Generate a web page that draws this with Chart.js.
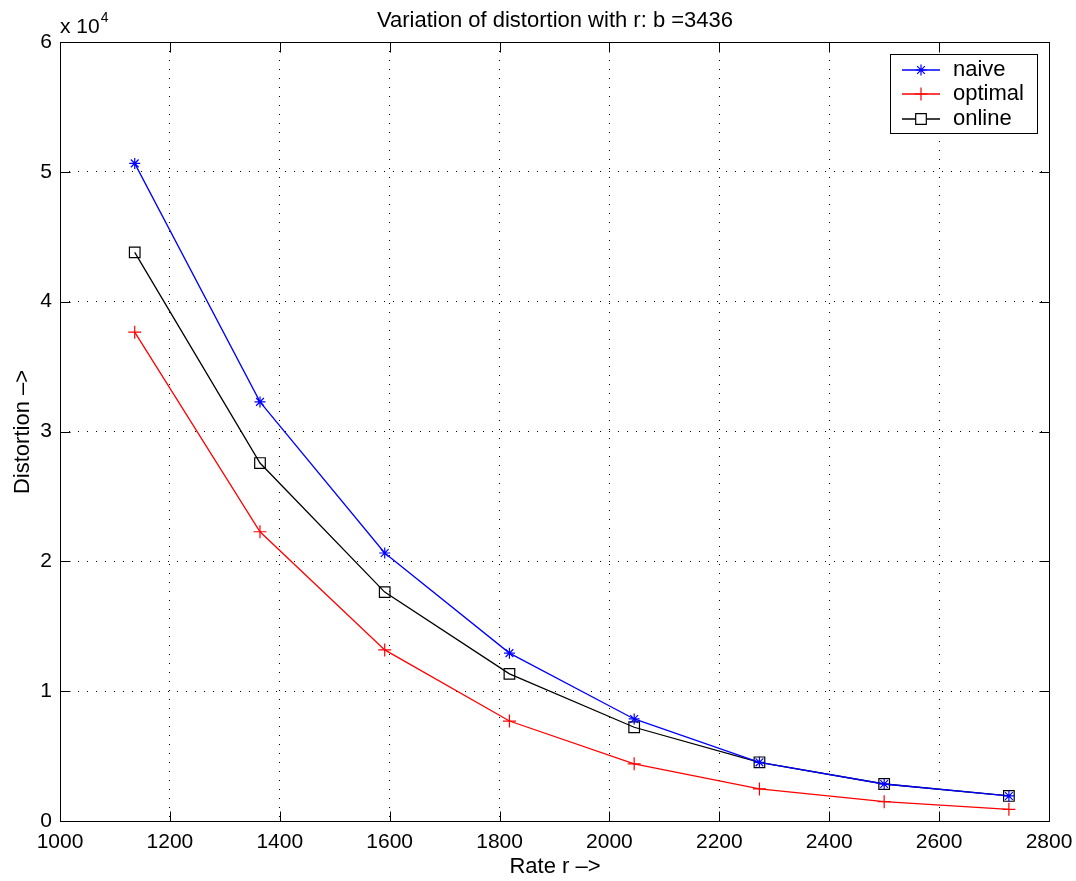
<!DOCTYPE html>
<html>
<head>
<meta charset="utf-8">
<script src="https://cdn.jsdelivr.net/npm/chart.js@4/dist/chart.umd.min.js"></script>
<style>
html,body{margin:0;padding:0;background:#fff;}
#wrap{width:1076px;height:881px;position:relative;}
</style>
</head>
<body>
<div id="wrap"><canvas id="c"></canvas></div>
<script>
const rates = [1136, 1364, 1591, 1818, 2045, 2273, 2500, 2727];
const naive = [50650, 32280, 20640, 12930, 7860, 4520, 2850, 1930];
const optimal = [37650, 22280, 13180, 7700, 4400, 2470, 1490, 900];
const online = [43800, 27570, 17630, 11330, 7220, 4520, 2850, 1930];
const seriesNames = ['naive', 'optimal', 'online'];
const titleText = 'Variation of distortion with r: b =3436';
const xTitle = 'Rate r \u2013>';
const yTitle = 'Distortion \u2013>';

const FONT = "'Liberation Sans', Arial, Helvetica, sans-serif";
const toPts = ys => ys.map((y, i) => ({x: rates[i], y}));

const styles = [
  {color: '#0000ff', pointStyle: 'star', radius: 5.5},
  {color: '#ff0000', pointStyle: 'cross', radius: 6.5},
  {color: '#000000', pointStyle: 'rect', radius: 7.5}
];
const values = [naive, optimal, online];

const datasets = values.map((v, i) => ({
  label: seriesNames[i],
  data: toPts(v),
  borderColor: styles[i].color,
  backgroundColor: 'rgba(0,0,0,0)',
  pointBackgroundColor: 'rgba(0,0,0,0)',
  pointBorderColor: styles[i].color,
  pointStyle: styles[i].pointStyle,
  pointRadius: styles[i].radius,
  pointBorderWidth: 1.2,
  borderWidth: 1.3,
  tension: 0,
  fill: false
}));

const decor = {
  id: 'decor',
  afterDraw(chart) {
    const ctx = chart.ctx;
    const xs = chart.scales.x, ys = chart.scales.y;
    const L = Math.round(chart.chartArea.left) + 0.5;
    const R = Math.round(chart.chartArea.right) + 0.5;
    const T = Math.round(chart.chartArea.top) + 0.5;
    const B = Math.round(chart.chartArea.bottom) + 0.5;
    ctx.save();
    ctx.strokeStyle = '#000';
    ctx.lineWidth = 1;
    ctx.setLineDash([]);
    ctx.beginPath();
    ctx.rect(L, T, R - L, B - T);
    ctx.stroke();
    // inward ticks
    const tl = 10;
    ctx.beginPath();
    xs.ticks.forEach(t => {
      const p = Math.round(xs.getPixelForValue(t.value)) + 0.5;
      ctx.moveTo(p, B); ctx.lineTo(p, B - tl);
      ctx.moveTo(p, T); ctx.lineTo(p, T + tl);
    });
    ys.ticks.forEach(t => {
      const p = Math.round(ys.getPixelForValue(t.value)) + 0.5;
      ctx.moveTo(L, p); ctx.lineTo(L + tl, p);
      ctx.moveTo(R, p); ctx.lineTo(R - tl, p);
    });
    ctx.stroke();

    // title
    ctx.fillStyle = '#000';
    ctx.textAlign = 'center';
    ctx.textBaseline = 'middle';
    ctx.font = '22px ' + FONT;
    ctx.fillText(titleText, (L + R) / 2, 21);
    // x title
    ctx.fillText(xTitle, (L + R) / 2, 867);
    // y title
    ctx.save();
    ctx.translate(23, (T + B) / 2);
    ctx.rotate(-Math.PI / 2);
    ctx.fillText(yTitle, 0, 0);
    ctx.restore();
    // exponent
    ctx.textAlign = 'left';
    ctx.textBaseline = 'alphabetic';
    ctx.font = '21px ' + FONT;
    ctx.fillText('x 10', 60, 33);
    const w = ctx.measureText('x 10').width;
    ctx.font = '14px ' + FONT;
    ctx.fillText('4', 60 + w + 1, 22);

    // legend
    const bx = 890.5, by = 54.5, bw = 147, bh = 79;
    ctx.fillStyle = '#fff';
    ctx.fillRect(bx, by, bw, bh);
    ctx.strokeStyle = '#000';
    ctx.lineWidth = 1;
    ctx.strokeRect(bx, by, bw, bh);
    const rowsY = [70, 94, 119];
    chart.data.datasets.forEach((ds, i) => {
      const y = rowsY[i];
      ctx.strokeStyle = ds.borderColor;
      ctx.lineWidth = 1.3;
      ctx.beginPath();
      ctx.moveTo(902, y); ctx.lineTo(940, y);
      ctx.stroke();
      ctx.lineWidth = 1.2;
      ctx.fillStyle = '#fff';
      Chart.helpers.drawPoint(ctx, {
        pointStyle: ds.pointStyle, radius: ds.pointRadius, rotation: 0, borderWidth: 1.2
      }, 921, y);
      ctx.fillStyle = '#000';
      ctx.font = '22px ' + FONT;
      ctx.textAlign = 'left';
      ctx.textBaseline = 'middle';
      ctx.fillText(ds.label, 953, y);
    });
    ctx.restore();
  }
};

new Chart(document.getElementById('c'), {
  type: 'line',
  data: {datasets},
  options: {
    responsive: true,
    maintainAspectRatio: false,
    animation: false,
    devicePixelRatio: 1,
    layout: {padding: {top: 42, right: 27, left: 0, bottom: 0}},
    plugins: {legend: {display: false}, title: {display: false}, tooltip: {enabled: false}},
    scales: {
      x: {
        type: 'linear',
        min: 1000, max: 2800,
        afterFit(s) { s.height = 60; s.paddingLeft = 0; s.paddingRight = 0; },
        ticks: {stepSize: 200, padding: 9, color: '#000', font: {size: 21, family: FONT}, maxRotation: 0,
                callback: v => String(v)},
        grid: {color: '#000', lineWidth: 1, drawTicks: false},
        border: {display: false, dash: [1, 8]}
      },
      y: {
        min: 0, max: 60000,
        afterFit(s) { s.width = 60; s.paddingTop = 0; s.paddingBottom = 0; },
        ticks: {stepSize: 10000, padding: 8, color: '#000', font: {size: 21, family: FONT},
                callback: v => String(v / 10000)},
        grid: {color: '#000', lineWidth: 1, drawTicks: false},
        border: {display: false, dash: [1, 8]}
      }
    }
  },
  plugins: [decor]
});
</script>
</body>
</html>
